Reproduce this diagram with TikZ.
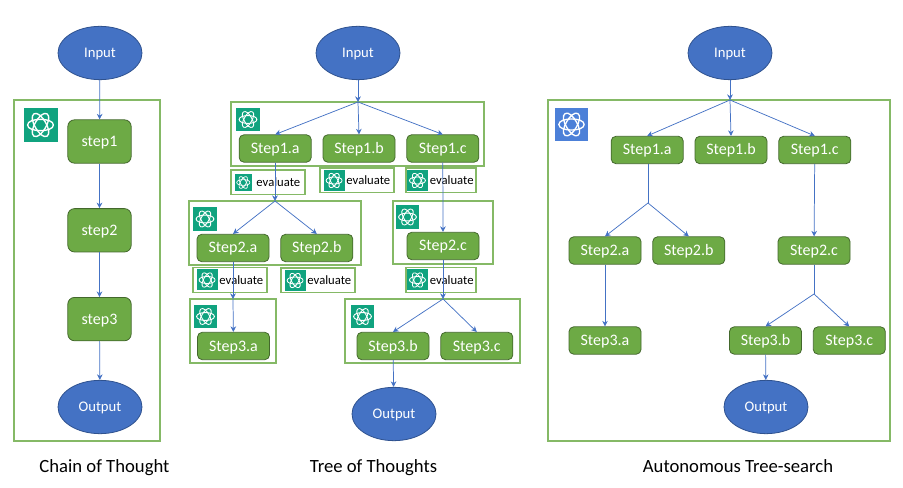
\documentclass[tikz,border=0pt]{standalone}
\usepackage{fontspec}
\setmainfont{Carlito}
\usetikzlibrary{positioning, arrows.meta, shapes.geometric}
\definecolor{boxgreen}{HTML}{6DAA45}
\definecolor{boxedge}{HTML}{43682C}
\definecolor{panelgreen}{HTML}{85B966}
\definecolor{flowblue}{HTML}{4472C4}
\definecolor{ovaledge}{HTML}{2F528F}
\definecolor{logogreen}{HTML}{10A37F}
\definecolor{logoblue}{HTML}{4C80D8}

\begin{document}
\begin{tikzpicture}[
    x=.75pt, y=-.75pt,
    node distance=8.25pt,
    >={Stealth[length=4.2pt,width=4.2pt]},
    stepbox/.style={draw=boxedge, line width=.6pt, fill=boxgreen, rounded corners=3.5pt, text=white, font=\fontsize{12}{14}\selectfont, minimum width=54pt, minimum height=20.5pt, inner sep=0pt, text height=9.5pt, text depth=2pt},
    bigstep/.style={stepbox, minimum width=47.5pt, minimum height=32.5pt, rounded corners=5pt},
    oval/.style={draw=ovaledge, line width=.6pt, fill=flowblue, ellipse, text=white, font=\fontsize{11}{13}\selectfont, minimum width=63pt, minimum height=40pt, inner sep=0pt, text height=9pt, text depth=2pt},
    panel/.style={draw=panelgreen, line width=1pt},
    evalbox/.style={draw=panelgreen, line width=1pt, fill=white, minimum height=18.5pt, inner sep=0pt},
    logo/.style 2 args={fill=#2, minimum size=#1, inner sep=0pt, path picture={
        \coordinate (logomid) at (path picture bounding box.center);
        \foreach \a/\b/\c/\d in {0/90/180/270, 60/150/240/330, 120/210/300/30}
            \draw[white, line width=.04*#1, looseness=.75] (logomid) ++(\a:.38*#1)
                to[out=\b, in=\b] ++(\c:.76*#1) to[out=\d, in=\d] ++(\a:.76*#1);
    }},
    caption/.style={font=\fontsize{14}{16}\selectfont, text height=10pt, text depth=3pt},
    flow/.style={draw=flowblue, line width=.55pt, ->}
]
\useasboundingbox (0,0) rectangle (903,488);

\draw[panel] (14,100) rectangle (160,441);
\draw[panel] (231,102) rectangle (484,166);
\draw[panel] (189,201) rectangle (361,265);
\draw[panel] (393,201) rectangle (493,264);
\draw[panel] (190,299) rectangle (276,363);
\draw[panel] (345,299) rectangle (520,363);
\draw[panel] (548,100) rectangle (890,441);

\node[logo={25.5pt}{logogreen}] (chainlogo) at (40.5,125) {};
\node[logo={17.5pt}{logogreen}] (treelogoA) at (248,119.5) {};
\node[logo={17.5pt}{logogreen}] (treelogoB) at (205,219) {};
\node[logo={17.5pt}{logogreen}] (treelogoC) at (407.5,217) {};
\node[logo={17.5pt}{logogreen}] (treelogoD) at (205.5,316.5) {};
\node[logo={17.5pt}{logogreen}] (treelogoE) at (362.5,316.5) {};
\node[logo={25pt}{logoblue}] (autologo) at (571.5,124.5) {};

\foreach \n/\x/\y/\w/\s/\g/\t in {A/268/182.5/55.5/13/3/3, B/357/180.5/55.5/15.75/3/1, C/441/180.5/52.5/15.75/1/1, D/230/280/55.5/15.75/3/1, E/318/280.5/55.5/15.75/3/1, F/441/280/52.5/15.75/1/1}{
    \node[evalbox, minimum width=\w pt] (eval\n) at (\x,\y) {};
    \node[logo={\s pt}{logogreen}, right=\g pt of eval\n.west] (evallogo\n) {};
    \node[font=\fontsize{9.5}{11}\selectfont, inner sep=0pt, right=\t pt of evallogo\n] (evaltext\n) {evaluate};
}

\node[oval] (chainin) at (100,53) {Input};
\node[bigstep] (chainA) at (99.5,141.5) {step1};
\node[bigstep, below=33.5pt of chainA] (chainB) {step2};
\node[bigstep, below=33.5pt of chainB] (chainC) {step3};
\node[oval] (chainout) at (100,407) {Output};
\draw[flow] (chainin) -- (chainA);
\draw[flow] (chainA) -- (chainB);
\draw[flow] (chainB) -- (chainC);
\draw[flow] (chainC) -- (chainout);

\node[oval] (treein) at (358,53) {Input};
\coordinate (treejoinA) at (358,102);
\node[stepbox] (treeAb) at (359,148.5) {Step1.b};
\node[stepbox, left=of treeAb] (treeAa) {Step1.a};
\node[stepbox, right=of treeAb] (treeAc) {Step1.c};
\coordinate (treejoinB) at (275,201);
\node[stepbox] (treeBa) at (233,248) {Step2.a};
\node[stepbox, right=of treeBa] (treeBb) {Step2.b};
\node[stepbox] (treeBc) at (443,246) {Step2.c};
\coordinate (treejoinC) at (233,299);
\coordinate (treejoinD) at (443,299);
\node[stepbox] (treeCa) at (233.5,346) {Step3.a};
\node[stepbox] (treeCb) at (393,346) {Step3.b};
\node[stepbox, right=of treeCb] (treeCc) {Step3.c};
\node[oval] (treeout) at (394,414) {Output};
\draw[flow] (treein) -- (treejoinA);
\draw[flow] (treejoinA) -- (treeAa.north);
\draw[flow] (treejoinA) -- (treeAb.north);
\draw[flow] (treejoinA) -- (treeAc.north);
\draw[flow] (treeAa.south -| treejoinB) -- (treejoinB);
\draw[flow] (treejoinB) -- (treeBa.north);
\draw[flow] (treejoinB) -- (treeBb.north);
\draw[flow] (treeAc) -- (treeBc);
\draw[flow] (treeBa.south -| treejoinC) -- (treejoinC);
\draw[flow] (treejoinC) -- (treeCa);
\draw[flow] (treeBc.south -| treejoinD) -- (treejoinD);
\draw[flow] (treejoinD) -- (treeCb.north);
\draw[flow] (treejoinD) -- (treeCc.north);
\draw[flow] (treeCb) -- (treeout);

\node[oval] (autoin) at (730,53) {Input};
\coordinate (autojoinA) at (730,100);
\node[stepbox] (autoAb) at (731,150) {Step1.b};
\node[stepbox, left=of autoAb] (autoAa) {Step1.a};
\node[stepbox, right=of autoAb] (autoAc) {Step1.c};
\coordinate (autojoinB) at (648,203);
\node[stepbox] (autoBa) at (605,250.5) {Step2.a};
\node[stepbox, right=of autoBa] (autoBb) {Step2.b};
\node[stepbox] (autoBc) at (814,250.5) {Step2.c};
\coordinate (autojoinC) at (814,294);
\node[stepbox] (autoCa) at (605,340.5) {Step3.a};
\node[stepbox] (autoCb) at (765.5,340.5) {Step3.b};
\node[stepbox, right=of autoCb] (autoCc) {Step3.c};
\node[oval] (autoout) at (766,407) {Output};
\draw[flow] (autoin) -- (autojoinA);
\draw[flow] (autojoinA) -- (autoAa.north);
\draw[flow] (autojoinA) -- (autoAb.north);
\draw[flow] (autojoinA) -- (autoAc.north);
\draw[flow, -] (autoAa.south -| autojoinB) -- (autojoinB);
\draw[flow] (autojoinB) -- (autoBa.north);
\draw[flow] (autojoinB) -- (autoBb.north);
\draw[flow] (autoBa) -- (autoCa);
\draw[flow] (autoAc) -- (autoBc);
\draw[flow, -] (autoBc) -- (autojoinC);
\draw[flow] (autojoinC) -- (autoCb.north);
\draw[flow] (autojoinC) -- (autoCc.north);
\draw[flow] (autoCb) -- (autoout);

\node[caption] (chaincap) at (104.5,468) {Chain of Thought};
\node[caption] (treecap) at (373.5,468) {Tree of Thoughts};
\node[caption] (autocap) at (738,468) {Autonomous Tree-search};
\end{tikzpicture}
\end{document}
